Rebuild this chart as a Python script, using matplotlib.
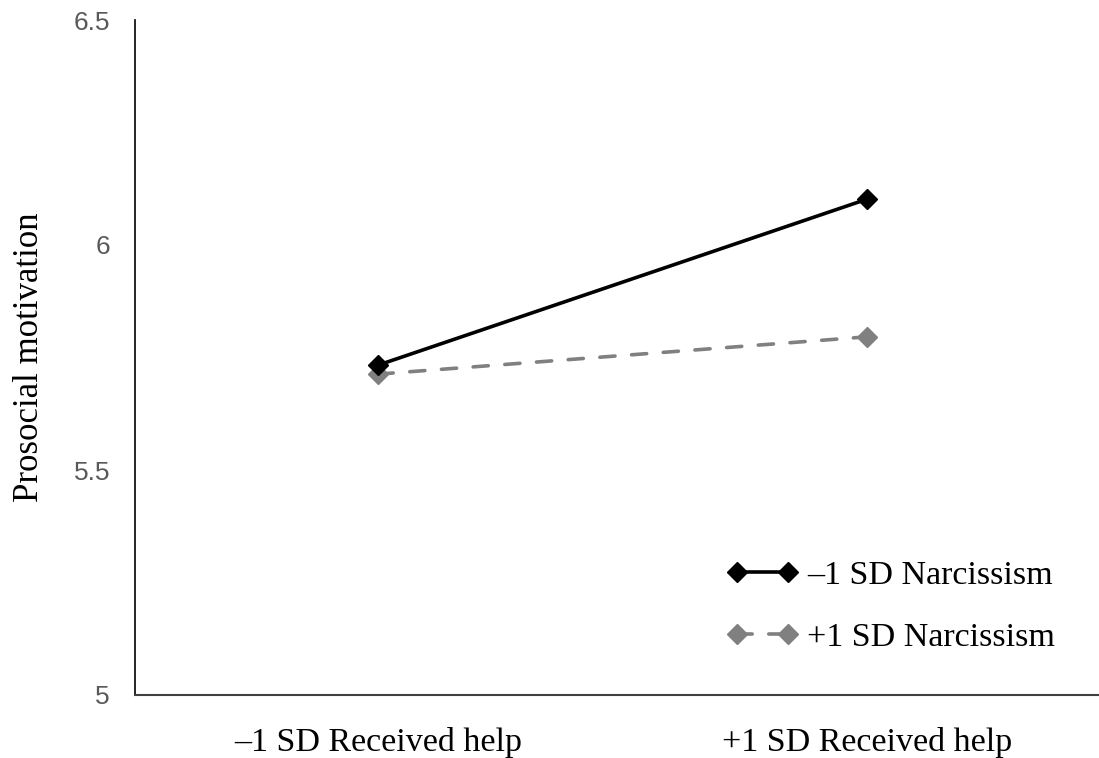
import matplotlib
matplotlib.use("Agg")
import matplotlib.pyplot as plt

categories = ["\u20131 SD Received help", "+1 SD Received help"]
series_names = ["\u20131 SD Narcissism", "+1 SD Narcissism"]
low_narc = [5.733, 6.102]
high_narc = [5.713, 5.796]
yticks = [5, 5.5, 6, 6.5]
ytick_labels = ["5", "5.5", "6", "6.5"]

W, H = 1099, 758
fig = plt.figure(figsize=(W / 100, H / 100), dpi=100)
ax = fig.add_axes([135 / W, (H - 695) / H, (W - 135) / W, (695 - 20) / H])

x = list(range(len(categories)))
ax.plot(x, low_narc, color="black", lw=2.6, marker="D", ms=10.5,
        solid_capstyle="round", label=series_names[0], zorder=3)
ax.plot(x, high_narc, color="#808080", lw=2.6, marker="D", ms=10.5,
        dashes=(4.2, 4.6), dash_capstyle="round", label=series_names[1], zorder=2)

ax.set_xlim(-0.497, 1.474)
ax.set_ylim(5, 6.5)
ax.set_yticks(yticks)
ax.set_yticklabels(ytick_labels, fontfamily="Liberation Sans", fontsize=19, color="#595959")
ax.set_xticks(x)
ax.set_xticklabels(categories, fontfamily="Liberation Serif", fontsize=24.5, color="black")
ax.tick_params(axis="y", length=0, pad=18)
ax.tick_params(axis="x", length=0, pad=23)
for s in ["top", "right"]:
    ax.spines[s].set_visible(False)
ax.spines["left"].set_color("black")
ax.spines["bottom"].set_color("#404040")
ax.spines["left"].set_linewidth(1.2)
ax.spines["bottom"].set_linewidth(1.5)
ax.set_ylabel("Prosocial motivation", fontfamily="Liberation Serif", fontsize=25, labelpad=20)

leg = ax.legend(loc="upper left", bbox_to_anchor=(727 / W, (H - 560) / H),
                bbox_transform=fig.transFigure, frameon=False, borderpad=0,
                borderaxespad=0, handlelength=2.1, handletextpad=0.25,
                labelspacing=0.93, numpoints=2,
                prop={"family": "Liberation Serif", "size": 24.5})

fig.savefig("out.png", dpi=100)
